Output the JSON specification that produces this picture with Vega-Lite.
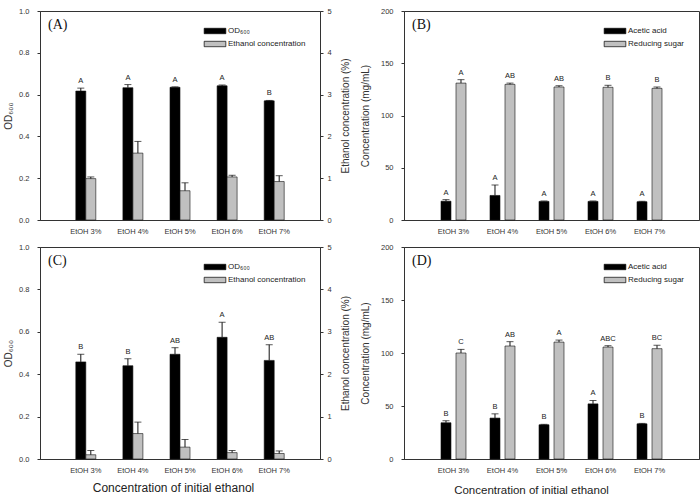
{
  "$schema": "https://vega.github.io/schema/vega-lite/v6.json",
  "autosize": {"type": "pad"},
  "padding": {"left": 3, "top": 6, "right": 0, "bottom": 0},
  "background": "white",
  "datasets": {
    "growth_fresh": [
      {"cond": "EtOH 3%", "series": "OD₆₀₀", "v": 0.617, "hi": 0.631, "g": "A"},
      {"cond": "EtOH 4%", "series": "OD₆₀₀", "v": 0.633, "hi": 0.648, "g": "A"},
      {"cond": "EtOH 5%", "series": "OD₆₀₀", "v": 0.635, "hi": 0.637, "g": "A"},
      {"cond": "EtOH 6%", "series": "OD₆₀₀", "v": 0.642, "hi": 0.646, "g": "A"},
      {"cond": "EtOH 7%", "series": "OD₆₀₀", "v": 0.570, "hi": 0.572, "g": "B"},
      {"cond": "EtOH 3%", "series": "Ethanol concentration", "v": 0.99, "hi": 1.03, "g": ""},
      {"cond": "EtOH 4%", "series": "Ethanol concentration", "v": 1.60, "hi": 1.88, "g": ""},
      {"cond": "EtOH 5%", "series": "Ethanol concentration", "v": 0.70, "hi": 0.89, "g": ""},
      {"cond": "EtOH 6%", "series": "Ethanol concentration", "v": 1.03, "hi": 1.07, "g": ""},
      {"cond": "EtOH 7%", "series": "Ethanol concentration", "v": 0.92, "hi": 1.06, "g": ""}
    ],
    "products_fresh": [
      {"cond": "EtOH 3%", "series": "Acetic acid", "v": 18.0, "hi": 19.5, "g": "A"},
      {"cond": "EtOH 4%", "series": "Acetic acid", "v": 23.5, "hi": 33.5, "g": "A"},
      {"cond": "EtOH 5%", "series": "Acetic acid", "v": 17.8, "hi": 18.2, "g": "A"},
      {"cond": "EtOH 6%", "series": "Acetic acid", "v": 17.8, "hi": 18.2, "g": "A"},
      {"cond": "EtOH 7%", "series": "Acetic acid", "v": 17.5, "hi": 17.9, "g": "A"},
      {"cond": "EtOH 3%", "series": "Reducing sugar", "v": 131.0, "hi": 134.3, "g": "A"},
      {"cond": "EtOH 4%", "series": "Reducing sugar", "v": 129.8, "hi": 131.0, "g": "AB"},
      {"cond": "EtOH 5%", "series": "Reducing sugar", "v": 127.3, "hi": 128.5, "g": "AB"},
      {"cond": "EtOH 6%", "series": "Reducing sugar", "v": 127.0, "hi": 128.9, "g": "B"},
      {"cond": "EtOH 7%", "series": "Reducing sugar", "v": 126.0, "hi": 127.3, "g": "B"}
    ],
    "growth_reused": [
      {"cond": "EtOH 3%", "series": "OD₆₀₀", "v": 0.458, "hi": 0.494, "g": "B"},
      {"cond": "EtOH 4%", "series": "OD₆₀₀", "v": 0.440, "hi": 0.473, "g": "B"},
      {"cond": "EtOH 5%", "series": "OD₆₀₀", "v": 0.494, "hi": 0.525, "g": "AB"},
      {"cond": "EtOH 6%", "series": "OD₆₀₀", "v": 0.574, "hi": 0.645, "g": "A"},
      {"cond": "EtOH 7%", "series": "OD₆₀₀", "v": 0.465, "hi": 0.539, "g": "AB"},
      {"cond": "EtOH 3%", "series": "Ethanol concentration", "v": 0.10, "hi": 0.20, "g": ""},
      {"cond": "EtOH 4%", "series": "Ethanol concentration", "v": 0.60, "hi": 0.87, "g": ""},
      {"cond": "EtOH 5%", "series": "Ethanol concentration", "v": 0.28, "hi": 0.46, "g": ""},
      {"cond": "EtOH 6%", "series": "Ethanol concentration", "v": 0.15, "hi": 0.20, "g": ""},
      {"cond": "EtOH 7%", "series": "Ethanol concentration", "v": 0.13, "hi": 0.19, "g": ""}
    ],
    "products_reused": [
      {"cond": "EtOH 3%", "series": "Acetic acid", "v": 34.2, "hi": 36.1, "g": "B"},
      {"cond": "EtOH 4%", "series": "Acetic acid", "v": 38.6, "hi": 42.6, "g": "B"},
      {"cond": "EtOH 5%", "series": "Acetic acid", "v": 32.3, "hi": 32.7, "g": "B"},
      {"cond": "EtOH 6%", "series": "Acetic acid", "v": 52.0, "hi": 55.2, "g": "A"},
      {"cond": "EtOH 7%", "series": "Acetic acid", "v": 33.2, "hi": 33.6, "g": "B"},
      {"cond": "EtOH 3%", "series": "Reducing sugar", "v": 100.0, "hi": 103.4, "g": "C"},
      {"cond": "EtOH 4%", "series": "Reducing sugar", "v": 106.6, "hi": 110.7, "g": "AB"},
      {"cond": "EtOH 5%", "series": "Reducing sugar", "v": 110.3, "hi": 112.2, "g": "A"},
      {"cond": "EtOH 6%", "series": "Reducing sugar", "v": 105.6, "hi": 106.9, "g": "ABC"},
      {"cond": "EtOH 7%", "series": "Reducing sugar", "v": 104.1, "hi": 107.2, "g": "BC"}
    ]
  },
  "columns": 2,
  "bounds": "flush",
  "spacing": {"row": 27, "column": 84},
  "concat": [
    {
      "width": 280,
      "height": 209,
      "title": {"text": "(A)"},
      "data": {"name": "growth_fresh"},
      "encoding": {
        "x": {"field": "cond", "type": "nominal", "sort": null, "scale": {"paddingInner": 0.575, "paddingOuter": 0.76}, "axis": {"title": null}}
      },
      "layer": [
        {
          "transform": [{"filter": "datum.series === 'OD₆₀₀'"}],
          "layer": [
            {"mark": {"type": "bar", "width": 10, "xOffset": -5, "stroke": "#111", "strokeWidth": 0.6},
             "encoding": {
               "y": {"field": "v", "type": "quantitative", "title": "OD₆₀₀", "scale": {"domain": [0, 1]}, "axis": {"values": [0, 0.2, 0.4, 0.6, 0.8, 1], "format": ".1f", "titlePadding": 5}},
               "fill": {"field": "series", "type": "nominal", "sort": null, "scale": {"domain": ["OD₆₀₀", "Ethanol concentration"], "range": ["#000000", "#c0c0c0"]}, "legend": {"title": null}}
             }},
            {"mark": {"type": "rule", "xOffset": -5, "color": "#111", "strokeWidth": 1},
             "encoding": {"y": {"field": "v", "type": "quantitative", "title": "OD₆₀₀", "scale": {"domain": [0, 1]}}, "y2": {"field": "hi"}}},
            {"mark": {"type": "tick", "xOffset": -5, "orient": "horizontal", "color": "#111", "size": 7, "thickness": 1},
             "encoding": {"y": {"field": "hi", "type": "quantitative", "title": "OD₆₀₀", "scale": {"domain": [0, 1]}}}},
            {"mark": {"type": "text", "xOffset": -5, "baseline": "bottom", "dy": -3, "fontSize": 7.5, "color": "#222"},
             "encoding": {"y": {"field": "hi", "type": "quantitative", "title": "OD₆₀₀", "scale": {"domain": [0, 1]}}, "text": {"field": "g"}}}
          ]
        },
        {
          "transform": [{"filter": "datum.series === 'Ethanol concentration'"}],
          "layer": [
            {"mark": {"type": "bar", "width": 10, "xOffset": 5, "stroke": "#111", "strokeWidth": 0.6},
             "encoding": {
               "y": {"field": "v", "type": "quantitative", "title": "Ethanol concentration (%)", "scale": {"domain": [0, 5]}, "axis": {"orient": "right", "values": [0, 1, 2, 3, 4, 5], "format": "d", "labelPadding": 4, "titleAngle": 270, "titleBaseline": "top", "titlePadding": 9}},
               "fill": {"field": "series", "type": "nominal", "sort": null, "scale": {"domain": ["OD₆₀₀", "Ethanol concentration"], "range": ["#000000", "#c0c0c0"]}, "legend": {"title": null}}
             }},
            {"mark": {"type": "rule", "xOffset": 5, "color": "#111", "strokeWidth": 1},
             "encoding": {"y": {"field": "v", "type": "quantitative", "title": "Ethanol concentration (%)", "scale": {"domain": [0, 5]}}, "y2": {"field": "hi"}}},
            {"mark": {"type": "tick", "xOffset": 5, "orient": "horizontal", "color": "#111", "size": 7, "thickness": 1},
             "encoding": {"y": {"field": "hi", "type": "quantitative", "title": "Ethanol concentration (%)", "scale": {"domain": [0, 5]}}}}
          ]
        }
      ],
      "resolve": {"scale": {"y": "independent"}}
    },
    {
      "width": 295,
      "height": 209,
      "title": {"text": "(B)"},
      "data": {"name": "products_fresh"},
      "encoding": {
        "x": {"field": "cond", "type": "nominal", "sort": null, "scale": {"paddingInner": 0.49, "paddingOuter": 0.755}, "axis": {"title": null}},
        "y": {"field": "v", "type": "quantitative", "title": "Concentration (mg/mL)", "scale": {"domain": [0, 200]}, "axis": {"values": [0, 50, 100, 150, 200], "titlePadding": 10}},
        "fill": {"field": "series", "type": "nominal", "sort": null, "scale": {"domain": ["Acetic acid", "Reducing sugar"], "range": ["#000000", "#c0c0c0"]}, "legend": {"title": null}}
      },
      "layer": [
        {
          "transform": [{"filter": "datum.series === 'Acetic acid'"}],
          "layer": [
            {"mark": {"type": "bar", "width": 10, "xOffset": -7.5, "stroke": "#111", "strokeWidth": 0.6}},
            {"mark": {"type": "rule", "xOffset": -7.5, "color": "#111", "strokeWidth": 1},
             "encoding": {"y2": {"field": "hi"}, "fill": {"value": null}}},
            {"mark": {"type": "tick", "xOffset": -7.5, "orient": "horizontal", "color": "#111", "size": 7, "thickness": 1},
             "encoding": {"y": {"field": "hi", "type": "quantitative", "title": "Concentration (mg/mL)", "scale": {"domain": [0, 200]}}, "fill": {"value": "#111"}}},
            {"mark": {"type": "text", "xOffset": -7.5, "baseline": "bottom", "dy": -3, "fontSize": 7.5},
             "encoding": {"y": {"field": "hi", "type": "quantitative", "title": "Concentration (mg/mL)", "scale": {"domain": [0, 200]}}, "text": {"field": "g"}, "fill": {"value": "#222"}}}
          ]
        },
        {
          "transform": [{"filter": "datum.series === 'Reducing sugar'"}],
          "layer": [
            {"mark": {"type": "bar", "width": 10, "xOffset": 7.5, "stroke": "#111", "strokeWidth": 0.6}},
            {"mark": {"type": "rule", "xOffset": 7.5, "color": "#111", "strokeWidth": 1},
             "encoding": {"y2": {"field": "hi"}, "fill": {"value": null}}},
            {"mark": {"type": "tick", "xOffset": 7.5, "orient": "horizontal", "color": "#111", "size": 7, "thickness": 1},
             "encoding": {"y": {"field": "hi", "type": "quantitative", "title": "Concentration (mg/mL)", "scale": {"domain": [0, 200]}}, "fill": {"value": "#111"}}},
            {"mark": {"type": "text", "xOffset": 7.5, "baseline": "bottom", "dy": -3, "fontSize": 7.5},
             "encoding": {"y": {"field": "hi", "type": "quantitative", "title": "Concentration (mg/mL)", "scale": {"domain": [0, 200]}}, "text": {"field": "g"}, "fill": {"value": "#222"}}}
          ]
        }
      ]
    },
    {
      "width": 280,
      "height": 212,
      "title": {"text": "(C)"},
      "data": {"name": "growth_reused"},
      "encoding": {
        "x": {"field": "cond", "type": "nominal", "sort": null, "scale": {"paddingInner": 0.575, "paddingOuter": 0.76}, "axis": {"title": "Concentration of initial ethanol", "titleFontSize": 12, "titlePadding": 9, "titleX": 133}}
      },
      "layer": [
        {
          "transform": [{"filter": "datum.series === 'OD₆₀₀'"}],
          "layer": [
            {"mark": {"type": "bar", "width": 10, "xOffset": -5, "stroke": "#111", "strokeWidth": 0.6},
             "encoding": {
               "y": {"field": "v", "type": "quantitative", "title": "OD₆₀₀", "scale": {"domain": [0, 1]}, "axis": {"values": [0, 0.2, 0.4, 0.6, 0.8, 1], "format": ".1f", "titlePadding": 5}},
               "fill": {"field": "series", "type": "nominal", "sort": null, "scale": {"domain": ["OD₆₀₀", "Ethanol concentration"], "range": ["#000000", "#c0c0c0"]}, "legend": {"title": null}}
             }},
            {"mark": {"type": "rule", "xOffset": -5, "color": "#111", "strokeWidth": 1},
             "encoding": {"y": {"field": "v", "type": "quantitative", "title": "OD₆₀₀", "scale": {"domain": [0, 1]}}, "y2": {"field": "hi"}}},
            {"mark": {"type": "tick", "xOffset": -5, "orient": "horizontal", "color": "#111", "size": 7, "thickness": 1},
             "encoding": {"y": {"field": "hi", "type": "quantitative", "title": "OD₆₀₀", "scale": {"domain": [0, 1]}}}},
            {"mark": {"type": "text", "xOffset": -5, "baseline": "bottom", "dy": -3, "fontSize": 7.5, "color": "#222"},
             "encoding": {"y": {"field": "hi", "type": "quantitative", "title": "OD₆₀₀", "scale": {"domain": [0, 1]}}, "text": {"field": "g"}}}
          ]
        },
        {
          "transform": [{"filter": "datum.series === 'Ethanol concentration'"}],
          "layer": [
            {"mark": {"type": "bar", "width": 10, "xOffset": 5, "stroke": "#111", "strokeWidth": 0.6},
             "encoding": {
               "y": {"field": "v", "type": "quantitative", "title": "Ethanol concentration (%)", "scale": {"domain": [0, 5]}, "axis": {"orient": "right", "values": [0, 1, 2, 3, 4, 5], "format": "d", "labelPadding": 4, "titleAngle": 270, "titleBaseline": "top", "titlePadding": 9}},
               "fill": {"field": "series", "type": "nominal", "sort": null, "scale": {"domain": ["OD₆₀₀", "Ethanol concentration"], "range": ["#000000", "#c0c0c0"]}, "legend": {"title": null}}
             }},
            {"mark": {"type": "rule", "xOffset": 5, "color": "#111", "strokeWidth": 1},
             "encoding": {"y": {"field": "v", "type": "quantitative", "title": "Ethanol concentration (%)", "scale": {"domain": [0, 5]}}, "y2": {"field": "hi"}}},
            {"mark": {"type": "tick", "xOffset": 5, "orient": "horizontal", "color": "#111", "size": 7, "thickness": 1},
             "encoding": {"y": {"field": "hi", "type": "quantitative", "title": "Ethanol concentration (%)", "scale": {"domain": [0, 5]}}}}
          ]
        }
      ],
      "resolve": {"scale": {"y": "independent"}}
    },
    {
      "width": 295,
      "height": 212,
      "title": {"text": "(D)"},
      "data": {"name": "products_reused"},
      "encoding": {
        "x": {"field": "cond", "type": "nominal", "sort": null, "scale": {"paddingInner": 0.49, "paddingOuter": 0.755}, "axis": {"title": "Concentration of initial ethanol", "titleFontSize": 11.5, "titleX": 127}},
        "y": {"field": "v", "type": "quantitative", "title": "Concentration (mg/mL)", "scale": {"domain": [0, 200]}, "axis": {"values": [0, 50, 100, 150, 200], "titlePadding": 10}},
        "fill": {"field": "series", "type": "nominal", "sort": null, "scale": {"domain": ["Acetic acid", "Reducing sugar"], "range": ["#000000", "#c0c0c0"]}, "legend": {"title": null}}
      },
      "layer": [
        {
          "transform": [{"filter": "datum.series === 'Acetic acid'"}],
          "layer": [
            {"mark": {"type": "bar", "width": 10, "xOffset": -7.5, "stroke": "#111", "strokeWidth": 0.6}},
            {"mark": {"type": "rule", "xOffset": -7.5, "color": "#111", "strokeWidth": 1},
             "encoding": {"y2": {"field": "hi"}, "fill": {"value": null}}},
            {"mark": {"type": "tick", "xOffset": -7.5, "orient": "horizontal", "color": "#111", "size": 7, "thickness": 1},
             "encoding": {"y": {"field": "hi", "type": "quantitative", "title": "Concentration (mg/mL)", "scale": {"domain": [0, 200]}}, "fill": {"value": "#111"}}},
            {"mark": {"type": "text", "xOffset": -7.5, "baseline": "bottom", "dy": -3, "fontSize": 7.5},
             "encoding": {"y": {"field": "hi", "type": "quantitative", "title": "Concentration (mg/mL)", "scale": {"domain": [0, 200]}}, "text": {"field": "g"}, "fill": {"value": "#222"}}}
          ]
        },
        {
          "transform": [{"filter": "datum.series === 'Reducing sugar'"}],
          "layer": [
            {"mark": {"type": "bar", "width": 10, "xOffset": 7.5, "stroke": "#111", "strokeWidth": 0.6}},
            {"mark": {"type": "rule", "xOffset": 7.5, "color": "#111", "strokeWidth": 1},
             "encoding": {"y2": {"field": "hi"}, "fill": {"value": null}}},
            {"mark": {"type": "tick", "xOffset": 7.5, "orient": "horizontal", "color": "#111", "size": 7, "thickness": 1},
             "encoding": {"y": {"field": "hi", "type": "quantitative", "title": "Concentration (mg/mL)", "scale": {"domain": [0, 200]}}, "fill": {"value": "#111"}}},
            {"mark": {"type": "text", "xOffset": 7.5, "baseline": "bottom", "dy": -3, "fontSize": 7.5},
             "encoding": {"y": {"field": "hi", "type": "quantitative", "title": "Concentration (mg/mL)", "scale": {"domain": [0, 200]}}, "text": {"field": "g"}, "fill": {"value": "#222"}}}
          ]
        }
      ]
    }
  ],
  "resolve": {"scale": {"fill": "independent"}, "legend": {"fill": "independent"}},
  "config": {
    "font": "Liberation Sans",
    "view": {"stroke": "#333", "strokeWidth": 1},
    "axis": {
      "grid": false,
      "domainColor": "#333",
      "tickColor": "#333",
      "tickSize": 3,
      "labelFontSize": 7.5,
      "labelColor": "#333",
      "labelPadding": 8,
      "titleFontSize": 10,
      "titleFontWeight": "normal",
      "titleColor": "#333"
    },
    "axisX": {"ticks": false, "labelPadding": 7, "labelAngle": 0, "titleFontSize": 12, "titlePadding": 11, "titleColor": "#222"},
    "title": {"font": "Liberation Serif", "fontSize": 14, "fontWeight": "normal", "anchor": "start", "frame": "group", "offset": 0, "baseline": "alphabetic", "dx": 8, "dy": 29, "color": "#111"},
    "legend": {
      "orient": "top-right",
      "offset": 14,
      "padding": 0,
      "symbolType": "M-2,-0.5H2V0.5H-2Z",
      "symbolSize": 117,
      "symbolStrokeColor": "#000",
      "symbolStrokeWidth": 0.7,
      "labelFontSize": 8,
      "labelColor": "#222",
      "labelOffset": 7,
      "rowPadding": 2
    }
  }
}
